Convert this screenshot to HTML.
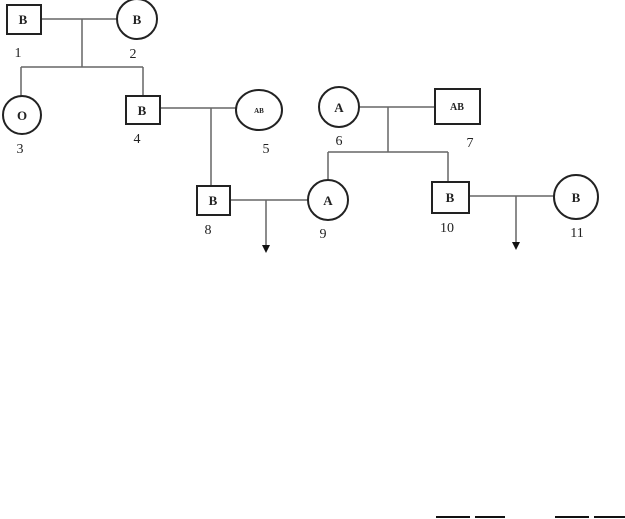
<!DOCTYPE html>
<html><head><meta charset="utf-8"><style>
html,body{margin:0;padding:0;background:#fff;width:625px;height:519px;overflow:hidden}
svg{display:block}
text{font-family:"Liberation Serif",serif;fill:#222}
</style></head><body>
<svg width="625" height="519" viewBox="0 0 625 519">
<g stroke="#666" stroke-width="1.5" fill="none">
<line x1="41" y1="19" x2="117" y2="19"/>
<line x1="82" y1="19" x2="82" y2="67"/>
<line x1="21" y1="67" x2="143" y2="67"/>
<line x1="21" y1="67" x2="21" y2="96"/>
<line x1="143" y1="67" x2="143" y2="96"/>
<line x1="160" y1="108" x2="236" y2="108"/>
<line x1="211" y1="108" x2="211" y2="186"/>
<line x1="230" y1="200" x2="308" y2="200"/>
<line x1="266" y1="200" x2="266" y2="246"/>
<line x1="359" y1="107" x2="435" y2="107"/>
<line x1="388" y1="107" x2="388" y2="152"/>
<line x1="328" y1="152" x2="448" y2="152"/>
<line x1="328" y1="152" x2="328" y2="181"/>
<line x1="448" y1="152" x2="448" y2="182"/>
<line x1="469" y1="196" x2="554" y2="196"/>
<line x1="516" y1="196" x2="516" y2="243"/>
</g>
<g fill="#111">
<polygon points="262,245 270,245 266,253"/>
<polygon points="512,242 520,242 516,250"/>
</g>
<g stroke="#222" stroke-width="2" fill="#fff">
<rect x="7" y="5" width="34" height="29"/>
<circle cx="137" cy="19" r="20"/>
<circle cx="22" cy="115" r="19"/>
<rect x="126" y="96" width="34" height="28"/>
<ellipse cx="259" cy="110" rx="23" ry="20"/>
<rect x="197" y="186" width="33" height="29"/>
<circle cx="328" cy="200" r="20"/>
<circle cx="339" cy="107" r="20"/>
<rect x="435" y="89" width="45" height="35"/>
<rect x="432" y="182" width="37" height="31"/>
<circle cx="576" cy="197" r="22"/>
</g>
<g font-size="13" text-anchor="middle" font-weight="bold">
<text x="23" y="24">B</text>
<text x="137" y="24">B</text>
<text x="22" y="120">O</text>
<text x="142" y="115">B</text>
<text x="259" y="113" font-size="7">AB</text>
<text x="213" y="205">B</text>
<text x="328" y="205">A</text>
<text x="339" y="112">A</text>
<text x="457" y="110" font-size="10">AB</text>
<text x="450" y="202">B</text>
<text x="576" y="202">B</text>
</g>
<g font-size="14" text-anchor="middle">
<text x="18" y="57">1</text>
<text x="133" y="58">2</text>
<text x="20" y="153">3</text>
<text x="137" y="143">4</text>
<text x="266" y="153">5</text>
<text x="339" y="145">6</text>
<text x="470" y="147">7</text>
<text x="208" y="234">8</text>
<text x="323" y="238">9</text>
<text x="447" y="232">10</text>
<text x="577" y="237">11</text>
</g>
<g stroke="#111" stroke-width="2">
<line x1="436" y1="517" x2="470" y2="517"/>
<line x1="475" y1="517" x2="505" y2="517"/>
<line x1="555" y1="517" x2="589" y2="517"/>
<line x1="594" y1="517" x2="625" y2="517"/>
</g>
</svg>
</body></html>
